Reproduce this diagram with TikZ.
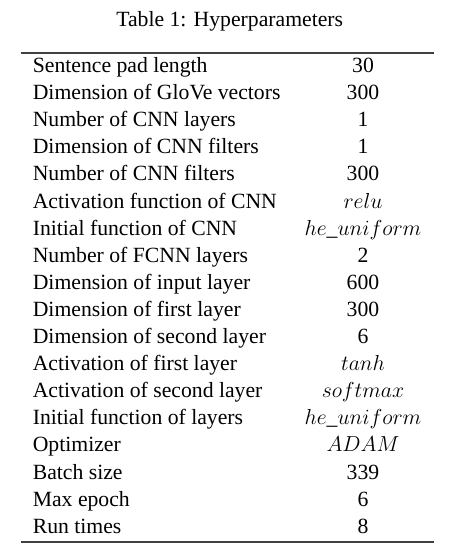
\RequirePackage{fix-cm}
\documentclass[tikz,border=0pt]{standalone}
\usepackage{fontspec}
\setmainfont{Liberation Serif}
\begin{document}
\begin{tikzpicture}[x=1pt,y=-1pt,
  txt/.style={inner sep=0pt,font=\fontsize{21.7}{26}\selectfont},
  key/.style={txt,anchor=base west},
  val/.style={txt,anchor=base},
  rulestyle/.style={draw=black!75,line width=1.6pt}]
\useasboundingbox (0,0) rectangle (468,560);
\node[val] (title) at (229.7,26.5) {Table 1: Hyperparameters};
\coordinate (tl) at (20.7,53.2);
\coordinate (tr) at (434,53.2);
\coordinate (bl) at (20.7,541.8);
\coordinate (br) at (434,541.8);
\draw[rulestyle] (tl) -- (tr);
\draw[rulestyle] (bl) -- (br);
\foreach \k/\v [count=\i from 0] in {
  {Sentence pad length}/{30},
  {Dimension of GloVe vectors}/{300},
  {Number of CNN layers}/{1},
  {Dimension of CNN filters}/{1},
  {Number of CNN filters}/{300},
  {Activation function of CNN}/{$relu$},
  {Initial function of CNN}/{$he\_uniform$},
  {Number of FCNN layers}/{2},
  {Dimension of input layer}/{600},
  {Dimension of first layer}/{300},
  {Dimension of second layer}/{6},
  {Activation of first layer}/{$tanh$},
  {Activation of second layer}/{$softmax$},
  {Initial function of layers}/{$he\_uniform$},
  {Optimizer}/{$ADAM$},
  {Batch size}/{339},
  {Max epoch}/{6},
  {Run times}/{8}}
{
  \node[key] (k\i) at (32.6,{72.5+\i*27.1}) {\k};
  \node[val] (v\i) at (363,{72.5+\i*27.1}) {\v};
}
\end{tikzpicture}
\end{document}
